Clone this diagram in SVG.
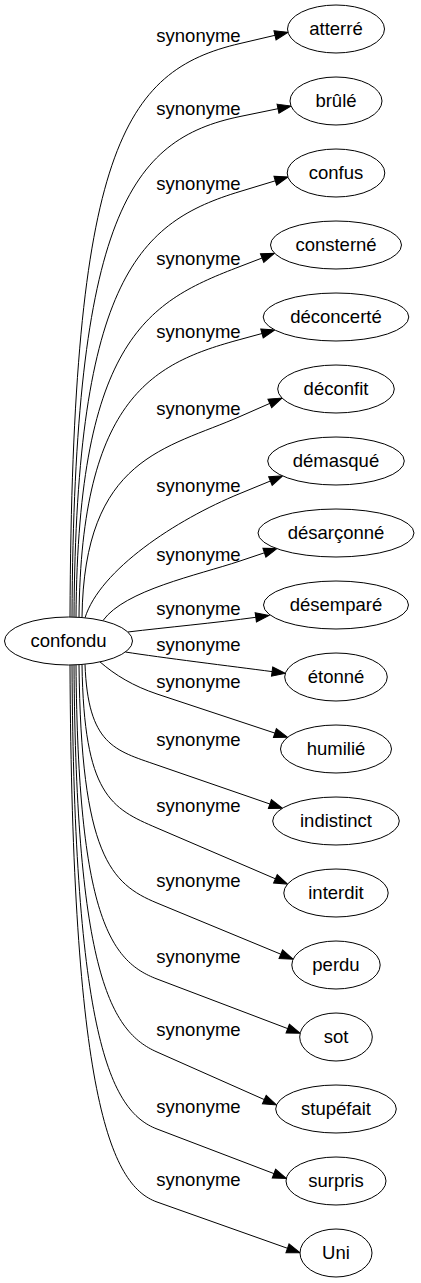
<svg xmlns="http://www.w3.org/2000/svg" width="421" height="1283" viewBox="0 0 421 1283">
<style>
.n ellipse{fill:#fff;stroke:#000;stroke-width:1}
.n text{font-family:"Liberation Sans",Arial,sans-serif;font-size:18.5px;text-anchor:middle;fill:#000}
.lb text{font-family:"Liberation Sans",Arial,sans-serif;font-size:18.5px;text-anchor:middle;fill:#000}
#edges path{fill:none;stroke:#000;stroke-width:1;marker-end:url(#arr)}
</style>
<defs>
<marker id="arr" markerUnits="userSpaceOnUse" markerWidth="15" markerHeight="11" refX="0" refY="4.67" orient="auto" viewBox="0 0 15 11" overflow="visible">
<path d="M0,0 L13.3,4.67 L0,9.33 z" fill="#000" stroke="#000" stroke-width="1"/>
</marker>
</defs>
<rect width="421" height="1283" fill="#fff"/>
<g id="edges">
<path d="M70,617 C72,150 123.1,70.7 240,43.5 L275,35.3"/>
<path d="M72,617 C74,216 130.4,139.1 240,116.5 L278,108.7"/>
<path d="M74,617.1 C76,276.6 140.5,221.6 240,191.5 L275.3,180.8"/>
<path d="M76,617.2 C78,336.6 150.3,300.8 240,266.5 L262.1,258"/>
<path d="M79,617.3 C81,395.1 155.1,362.6 240,339.5 L262,333.5"/>
<path d="M82,617.5 C84,456.7 166.8,448.7 240,416.5 L269.8,403.4"/>
<path d="M85,617.8 C100,570 175.2,520 240,493.5 L270.4,481"/>
<path d="M103,620.5 C125,590 197.3,575.3 240,561 L264.4,552.8"/>
<path d="M127.8,632 C165,627.5 216.2,622.8 255.8,617.3"/>
<path d="M125.4,652 C160,657.5 232.5,666.4 272.1,671.6"/>
<path d="M100,661.9 C115,675 133.3,686.1 157,694 L274.9,733.1"/>
<path d="M85,664.2 C88,744.8 114.5,750.3 157,765 L269.9,804"/>
<path d="M82,664.5 C84,795.3 111,808.3 157,828 L275.4,878.8"/>
<path d="M79,664.7 C81,855.3 110.8,883.9 157,903 L280.8,954.2"/>
<path d="M76,664.8 C78,916.2 110.3,961.3 157,979 L287.7,1028.6"/>
<path d="M74,664.9 C76,974.6 111.3,1031.8 157,1052 L264.3,1099.6"/>
<path d="M72,665 C74,1036.2 110.3,1111.2 157,1129 L273.9,1173.6"/>
<path d="M70,665 C72,1094.6 109.9,1185.3 157,1202 L287.5,1248.3"/>
</g>
<g class="lb" id="edge-labels">
<text x="198.5" y="41.7">synonyme</text>
<text x="198.5" y="115">synonyme</text>
<text x="198.5" y="190">synonyme</text>
<text x="198.5" y="265">synonyme</text>
<text x="198.5" y="338">synonyme</text>
<text x="198.5" y="415">synonyme</text>
<text x="198.5" y="492">synonyme</text>
<text x="198.5" y="560.7">synonyme</text>
<text x="198.5" y="615">synonyme</text>
<text x="198.5" y="650.7">synonyme</text>
<text x="198.5" y="687.7">synonyme</text>
<text x="198.5" y="746">synonyme</text>
<text x="198.5" y="812">synonyme</text>
<text x="198.5" y="887">synonyme</text>
<text x="198.5" y="963">synonyme</text>
<text x="198.5" y="1036">synonyme</text>
<text x="198.5" y="1113">synonyme</text>
<text x="198.5" y="1186">synonyme</text>
</g>
<g class="n" id="confondu"><ellipse cx="68.5" cy="641" rx="64" ry="24"/><text x="68.5" y="647">confondu</text></g>
<g class="n" id="atterre"><ellipse cx="336" cy="29" rx="48.5" ry="24"/><text x="336" y="35">atterré</text></g>
<g class="n" id="brule"><ellipse cx="336" cy="101" rx="46" ry="24"/><text x="336" y="107">brûlé</text></g>
<g class="n" id="confus"><ellipse cx="336" cy="173" rx="48.8" ry="24"/><text x="336" y="179">confus</text></g>
<g class="n" id="consterne"><ellipse cx="336" cy="245" rx="65.5" ry="24"/><text x="336" y="251">consterné</text></g>
<g class="n" id="deconcerte"><ellipse cx="336" cy="317" rx="72.8" ry="24"/><text x="336" y="323">déconcerté</text></g>
<g class="n" id="deconfit"><ellipse cx="336" cy="389" rx="58.3" ry="24"/><text x="336" y="395">déconfit</text></g>
<g class="n" id="demasque"><ellipse cx="336" cy="461" rx="68.3" ry="24"/><text x="336" y="467">démasqué</text></g>
<g class="n" id="desarconne"><ellipse cx="336" cy="533" rx="78" ry="24"/><text x="336" y="539">désarçonné</text></g>
<g class="n" id="desempare"><ellipse cx="336" cy="605" rx="72.5" ry="24"/><text x="336" y="611">désemparé</text></g>
<g class="n" id="etonne"><ellipse cx="336" cy="677" rx="51.3" ry="24"/><text x="336" y="683">étonné</text></g>
<g class="n" id="humilie"><ellipse cx="336" cy="749" rx="55.5" ry="24"/><text x="336" y="755">humilié</text></g>
<g class="n" id="indistinct"><ellipse cx="336" cy="821" rx="63.3" ry="24"/><text x="336" y="827">indistinct</text></g>
<g class="n" id="interdit"><ellipse cx="336" cy="893" rx="52.2" ry="24"/><text x="336" y="899">interdit</text></g>
<g class="n" id="perdu"><ellipse cx="336" cy="965" rx="44.2" ry="24"/><text x="336" y="971">perdu</text></g>
<g class="n" id="sot"><ellipse cx="336" cy="1037" rx="36.3" ry="24"/><text x="336" y="1043">sot</text></g>
<g class="n" id="stupefait"><ellipse cx="336" cy="1109" rx="60.3" ry="24"/><text x="336" y="1115">stupéfait</text></g>
<g class="n" id="surpris"><ellipse cx="336" cy="1181" rx="50" ry="24"/><text x="336" y="1187">surpris</text></g>
<g class="n" id="uni"><ellipse cx="336" cy="1253" rx="36" ry="24"/><text x="336" y="1259">Uni</text></g>
</svg>
